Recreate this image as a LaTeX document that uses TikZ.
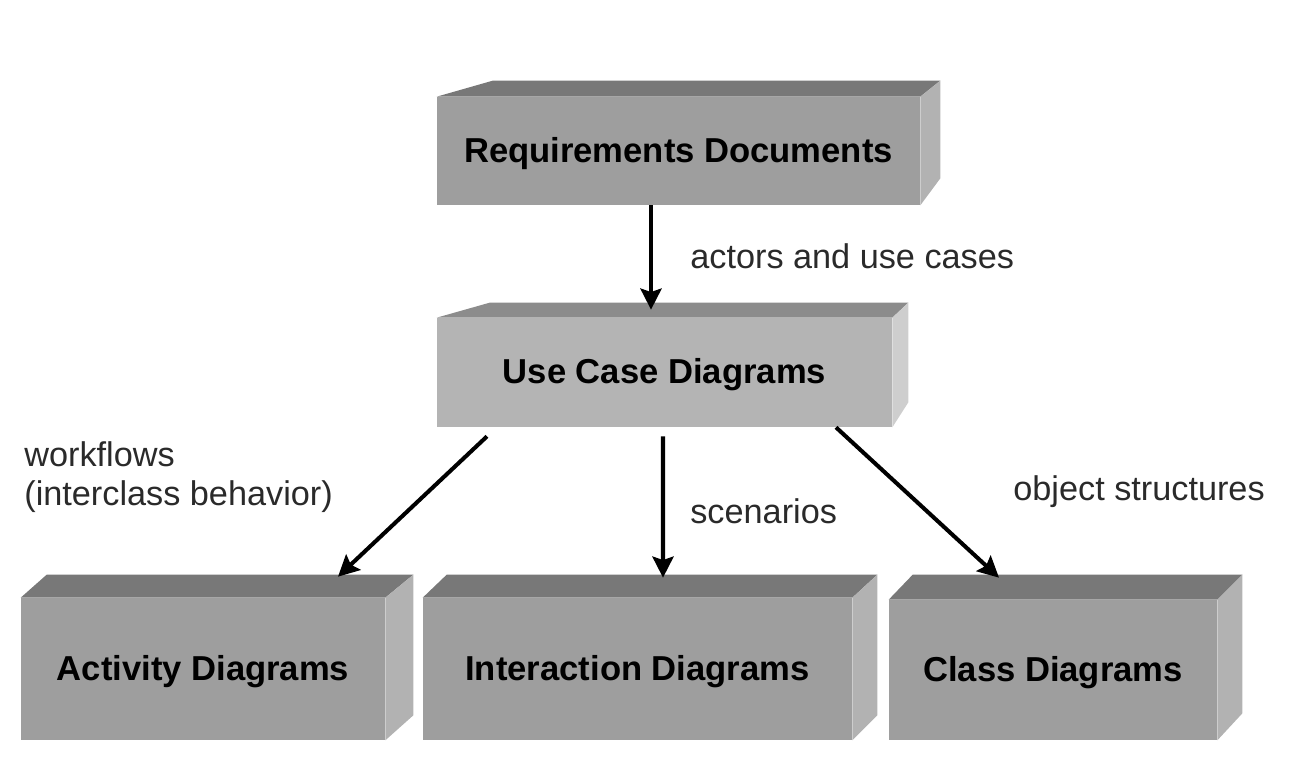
\documentclass[tikz,border=0pt]{standalone}
\usepackage{fontspec}
\setmainfont{Liberation Sans}
\usetikzlibrary{arrows.meta,calc}
\definecolor{reqfront}{HTML}{9E9E9E}
\definecolor{reqtop}{HTML}{787878}
\definecolor{reqside}{HTML}{B2B2B2}
\definecolor{ucfront}{HTML}{B4B4B4}
\definecolor{uctop}{HTML}{8C8C8C}
\definecolor{ucside}{HTML}{CECECE}
\definecolor{labelgray}{HTML}{2A2A2A}
\tikzset{
  front/.style={rectangle, inner sep=0pt, draw=none, text height=13pt, text depth=0pt, font=\fontsize{19.7pt}{23pt}\selectfont\bfseries, text=black},
  lbl/.style={inner sep=0pt, font=\fontsize{19.5pt}{23pt}\selectfont, text=labelgray, align=left},
  conn/.style={line width=2.3pt, draw=black, -{Stealth[length=12pt,width=12pt,inset=2pt]}}
}
\begin{document}
\begin{tikzpicture}[x=0.02cm,y=-0.02cm]
\path[use as bounding box] (0,0) rectangle (1300,778);

% Requirements Documents
\node[front, fill=reqfront, minimum width=9.66cm, minimum height=2.16cm] (req) at (678.5,151) {Requirements Documents};
\fill[reqtop] (req.north west) -- ++(56,-16) -- ($(req.north east)+(20,-16)$) -- (req.north east) -- cycle;
\fill[reqside] (req.north east) -- ++(20,-16) -- ($(req.south east)+(20,-27)$) -- (req.south east) -- cycle;

% Use Case Diagrams
\node[front, fill=ucfront, minimum width=9.1cm, minimum height=2.18cm] (uc) at (664.5,372.5) {Use Case Diagrams};
\fill[uctop] (uc.north west) -- ++(53,-15) -- ($(uc.north east)+(16,-15)$) -- (uc.north east) -- cycle;
\fill[ucside] (uc.north east) -- ++(16,-15) -- ($(uc.south east)+(16,-25)$) -- (uc.south east) -- cycle;

% Activity Diagrams
\node[front, fill=reqfront, minimum width=7.28cm, minimum height=2.84cm] (act) at (203,669) {Activity Diagrams};
\fill[reqtop] (act.north west) -- ++(26,-23) -- ($(act.north east)+(28,-23)$) -- (act.north east) -- cycle;
\fill[reqside] (act.north east) -- ++(28,-23) -- ($(act.south east)+(28,-25)$) -- (act.south east) -- cycle;

% Interaction Diagrams
\node[front, fill=reqfront, minimum width=8.58cm, minimum height=2.84cm] (int) at (637.5,669) {Interaction Diagrams};
\fill[reqtop] (int.north west) -- ++(24,-23) -- ($(int.north east)+(25,-23)$) -- (int.north east) -- cycle;
\fill[reqside] (int.north east) -- ++(25,-23) -- ($(int.south east)+(25,-25)$) -- (int.south east) -- cycle;

% Class Diagrams
\node[front, fill=reqfront, minimum width=6.56cm, minimum height=2.8cm] (cls) at (1053,670) {Class Diagrams};
\fill[reqtop] (cls.north west) -- ++(24,-25) -- ($(cls.north east)+(25,-25)$) -- (cls.north east) -- cycle;
\fill[reqside] (cls.north east) -- ++(25,-25) -- ($(cls.south east)+(25,-27)$) -- (cls.south east) -- cycle;

% Connectors
\draw[conn] ($(req.south)+(-27.5,0)$) -- ($(uc.north)+(-13.5,-8)$);
\draw[conn] ($(uc.south)+(-177.5,9)$) -- ($(act.north)+(135,-21)$);
\draw[conn] ($(uc.south)+(-1.5,9)$) -- ($(int.north)+(25.5,-20)$);
\draw[conn] ($(uc.south)+(171.5,0)$) -- ($(cls.north)+(-54,-22)$);

% Labels
\node[lbl, anchor=base west] (l1) at (690,268) {actors and use cases};
\node[lbl, anchor=base west] (l2) at (24,466) {workflows};
\node[lbl, anchor=base west] (l3) at (24,505) {(interclass behavior)};
\node[lbl, anchor=base west] (l4) at (690,523) {scenarios};
\node[lbl, anchor=base west] (l5) at (1013,500) {object structures};
\end{tikzpicture}
\end{document}
